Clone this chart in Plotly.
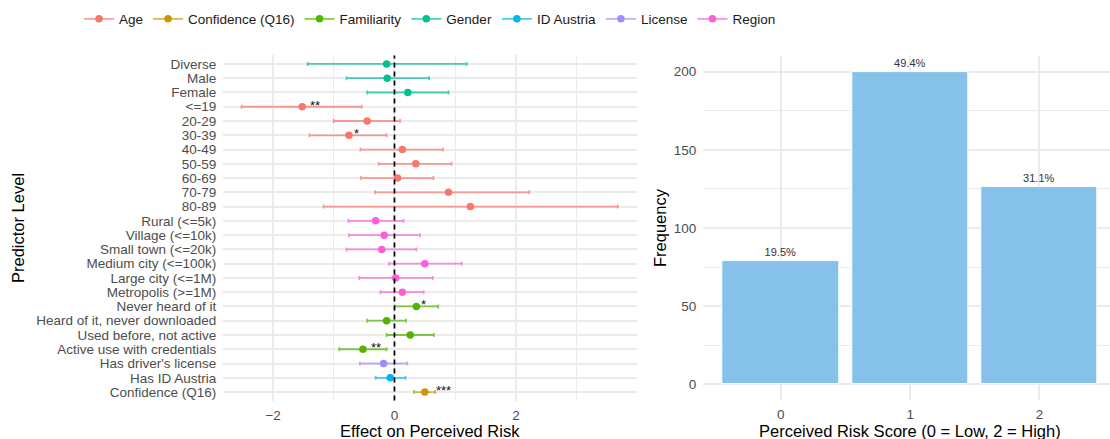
import plotly.graph_objects as go

W, H = 1110, 439

# ---------------- data ----------------
levels = ["Diverse", "Male", "Female", "<=19", "20-29", "30-39", "40-49", "50-59",
          "60-69", "70-79", "80-89", "Rural (<=5k)", "Village (<=10k)",
          "Small town (<=20k)", "Medium city (<=100k)", "Large city (<=1M)",
          "Metropolis (>=1M)", "Never heard of it", "Heard of it, never downloaded",
          "Used before, not active", "Active use with credentials",
          "Has driver's license", "Has ID Austria", "Confidence (Q16)"]
groups = (["Gender"] * 3 + ["Age"] * 8 + ["Region"] * 6 + ["Familiarity"] * 4
          + ["License", "ID Austria", "Confidence (Q16)"])
estimate = [-0.13, -0.12, 0.22, -1.52, -0.45, -0.75, 0.13, 0.35, 0.05, 0.89, 1.25,
            -0.31, -0.17, -0.21, 0.50, 0.02, 0.13, 0.36, -0.13, 0.26, -0.52,
            -0.18, -0.07, 0.50]
ci_low = [-1.43, -0.79, -0.45, -2.52, -1.00, -1.40, -0.56, -0.26, -0.55, -0.32, -1.17,
          -0.76, -0.75, -0.79, -0.09, -0.58, -0.23, 0.005, -0.45, -0.13, -0.91,
          -0.57, -0.31, 0.32]
ci_high = [1.19, 0.57, 0.89, -0.54, 0.09, -0.13, 0.80, 0.94, 0.64, 2.22, 3.68,
           0.15, 0.42, 0.36, 1.11, 0.63, 0.48, 0.72, 0.19, 0.65, -0.13,
           0.21, 0.18, 0.67]
signif = ["", "", "", "**", "", "*", "", "", "", "", "", "", "", "", "", "", "",
          "*", "", "", "**", "", "", "***"]

legend_groups = ["Age", "Confidence (Q16)", "Familiarity", "Gender", "ID Austria",
                 "License", "Region"]
group_colors = ["#F8766D", "#C49A00", "#53B400", "#00C094", "#00B6EB",
                "#A58AFF", "#FB61D7"]

risk_score = [0, 1, 2]
risk_count = [79, 200, 126]
risk_ticks = [0, 50, 100, 150, 200]
effect_ticks = [-2, 0, 2]
effect_minor = [-1, 1, 3]

# ---------------- helpers ----------------
def rgba(hex_color, a):
    h = hex_color.lstrip("#")
    r, g, b = int(h[0:2], 16), int(h[2:4], 16), int(h[4:6], 16)
    return f"rgba({r},{g},{b},{a})"

FONT = "Liberation Sans, Arial, Helvetica, sans-serif"
TICK_COL = "#4D4D4D"
GRID = "#EBEBEB"
ERR_ALPHA = 0.7

fig = go.Figure()

# legend entries (line + point glyph like ggplot)
for g, c in zip(legend_groups, group_colors):
    fig.add_trace(go.Scatter(
        x=[None], y=[None], mode="lines+markers", name=g,
        line=dict(color=rgba(c, ERR_ALPHA), width=1.8),
        marker=dict(color=c, size=7.5), xaxis="x", yaxis="y",
        showlegend=True, hoverinfo="skip"))

# forest plot, one trace per group
for g, c in zip(legend_groups, group_colors):
    idx = [i for i, gg in enumerate(groups) if gg == g]
    xs = [estimate[i] for i in idx]
    ys = [levels[i] for i in idx]
    plus = [ci_high[i] - estimate[i] for i in idx]
    minus = [estimate[i] - ci_low[i] for i in idx]
    fig.add_trace(go.Scatter(
        x=xs, y=ys, mode="markers", name=g, showlegend=False,
        marker=dict(color=c, size=7.5),
        error_x=dict(type="data", symmetric=False, array=plus, arrayminus=minus,
                     color=rgba(c, ERR_ALPHA), thickness=1.8, width=2),
        xaxis="x", yaxis="y", hoverinfo="skip"))

# zero reference line
fig.add_shape(type="line", xref="x", yref="y domain", x0=0, x1=0, y0=0, y1=1,
              line=dict(color="black", width=1.7, dash="5px,4px"), layer="above")

# significance stars
for lev, est, s in zip(levels, estimate, signif):
    if s:
        fig.add_annotation(x=est, y=lev, xref="x", yref="y", text=s,
                           showarrow=False, xanchor="left", yanchor="middle",
                           xshift=3 * len(s), yshift=1.5,
                           font=dict(family=FONT, size=13, color="#111111"))

# bar chart
total = sum(risk_count)
risk_labels = [f"{100 * c / total:.1f}%" for c in risk_count]
fig.add_trace(go.Bar(
    x=risk_score, y=risk_count, width=0.9, text=risk_labels,
    textposition="outside", cliponaxis=False,
    textfont=dict(family=FONT, size=11, color="#333333"),
    marker=dict(color="#85C1E9", line=dict(color="white", width=1)),
    xaxis="x2", yaxis="y2", showlegend=False, hoverinfo="skip"))

# ---------------- layout ----------------
def px_x(p):
    return p / W

def px_y(p):
    return 1 - p / H

axis_common = dict(showline=False, zeroline=False, ticks="", automargin=False,
                   gridcolor=GRID, gridwidth=2, showgrid=True,
                   tickfont=dict(family=FONT, size=13.5, color=TICK_COL))

fig.update_layout(
    width=W, height=H, template="none",
    margin=dict(l=0, r=0, t=0, b=0, pad=0),
    paper_bgcolor="white", plot_bgcolor="white",
    font=dict(family=FONT, color="black"),
    hovermode=False,
    xaxis=dict(domain=[px_x(223.3), px_x(636.7)], range=[-2.82, 3.99],
               tickmode="array", tickvals=effect_ticks, ticklabelstandoff=5,
               minor=dict(tickmode="array", tickvals=effect_minor, showgrid=True,
                          gridcolor=GRID, gridwidth=1),
               anchor="y", **axis_common),
    yaxis=dict(domain=[px_y(400.6), px_y(55.4)], type="category",
               categoryorder="array", categoryarray=levels,
               tickmode="array", tickvals=levels, ticktext=levels,
               range=[len(levels) - 0.4, -0.6], ticklabelstandoff=6,
               anchor="x", **axis_common),
    xaxis2=dict(domain=[px_x(703.3), 1.0], range=[-0.6, 2.546],
                tickmode="array", tickvals=risk_score, ticklabelstandoff=5,
                anchor="y2", **axis_common),
    yaxis2=dict(domain=[px_y(399.9), px_y(56.1)], range=[-10, 210],
                tickmode="array", tickvals=risk_ticks, ticklabelstandoff=6,
                minor=dict(tick0=0, dtick=25, showgrid=True, gridcolor=GRID,
                           gridwidth=1),
                anchor="x2", **axis_common),
    legend=dict(orientation="h", x=px_x(430), xanchor="center",
                y=px_y(19), yanchor="middle", bgcolor="rgba(0,0,0,0)",
                font=dict(family=FONT, size=13.5, color="#1a1a1a"),
                itemwidth=30),
    bargap=0,
)

# axis titles
title_font = dict(family=FONT, size=16.5, color="black")
fig.add_annotation(text="Predictor Level", x=px_x(18), y=px_y(228), xref="paper",
                   yref="paper", showarrow=False, textangle=-90, font=title_font,
                   xanchor="center", yanchor="middle")
fig.add_annotation(text="Effect on Perceived Risk", x=px_x(430), y=px_y(430.5),
                   xref="paper", yref="paper", showarrow=False, font=title_font,
                   xanchor="center", yanchor="middle")
fig.add_annotation(text="Frequency", x=px_x(660), y=px_y(228), xref="paper",
                   yref="paper", showarrow=False, textangle=-90, font=title_font,
                   xanchor="center", yanchor="middle")
fig.add_annotation(text="Perceived Risk Score (0 = Low, 2 = High)", x=px_x(910),
                   y=px_y(430.5), xref="paper", yref="paper", showarrow=False,
                   font=title_font, xanchor="center", yanchor="middle")

fig.write_html("out.html")
